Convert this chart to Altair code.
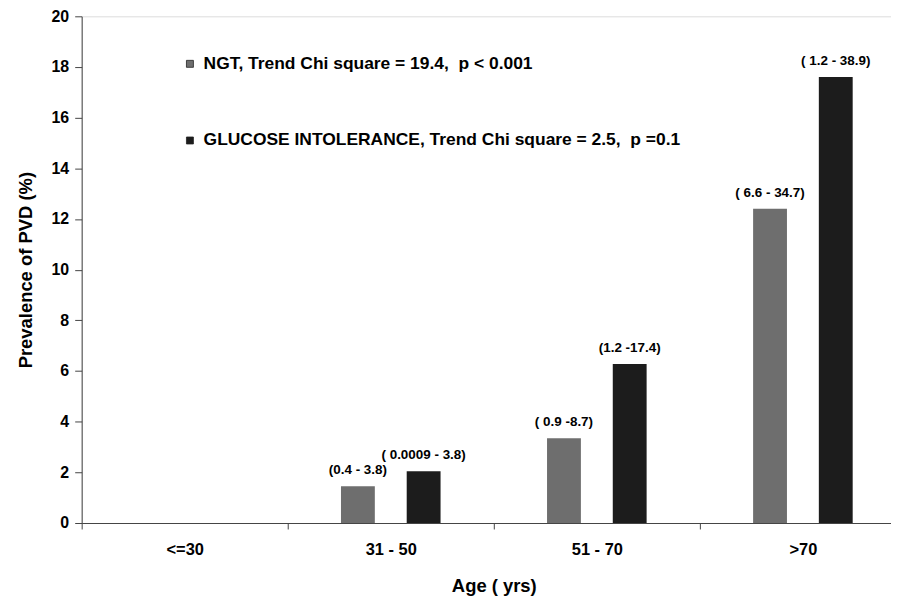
import altair as alt
import pandas as pd

ages = ["<=30", "31 - 50", "51 - 70", ">70"]
groups = ["NGT", "GLUCOSE INTOLERANCE"]
ngt_values = [0, 1.45, 3.35, 12.4]
gi_values = [0, 2.04, 6.28, 17.6]
ngt_ci = ["", "(0.4 - 3.8)", "( 0.9 -8.7)", "( 6.6 - 34.7)"]
gi_ci = ["", "( 0.0009 - 3.8)", "(1.2 -17.4)", "( 1.2 - 38.9)"]
legend_labels = {
    "NGT": "NGT, Trend Chi square = 19.4,\u00a0\u00a0p < 0.001",
    "GLUCOSE INTOLERANCE": "GLUCOSE INTOLERANCE, Trend Chi square = 2.5,\u00a0\u00a0p =0.1",
}

rows = []
for i, a in enumerate(ages):
    rows.append({"age": a, "group": groups[0], "value": ngt_values[i], "ci": ngt_ci[i]})
    rows.append({"age": a, "group": groups[1], "value": gi_values[i], "ci": gi_ci[i]})
df = pd.DataFrame(rows)

FONT = "Liberation Sans"

label_expr = "datum.label == 'NGT' ? '%s' : '%s'" % (
    legend_labels["NGT"], legend_labels["GLUCOSE INTOLERANCE"])

x_enc = alt.X(
    "age:N", sort=ages, title="Age ( yrs)",
    scale=alt.Scale(paddingInner=0, paddingOuter=0),
    axis=alt.Axis(
        labelAngle=0, labelFont=FONT, labelFontSize=16.5, labelFontWeight="bold",
        labelColor="#000", labelPadding=13, tickBand="extent", tickSize=6,
        tickColor="#444", domainColor="#444", titleFont=FONT, titleFontSize=18.5,
        titleFontWeight="bold", titleColor="#000", titlePadding=18, grid=False,
    ),
)
xoff = alt.XOffset(
    "group:N", sort=groups,
    scale=alt.Scale(paddingInner=0.485, paddingOuter=0.81),
)
y_enc = alt.Y(
    "value:Q", title="Prevalence of PVD (%)",
    scale=alt.Scale(domain=[0, 20], nice=False),
    axis=alt.Axis(
        values=list(range(0, 21, 2)), labelFont=FONT, labelFontSize=16,
        labelFontWeight="bold", labelColor="#000", labelPadding=6, tickSize=7,
        tickColor="#444", domainColor="#444", grid=False, titleFont=FONT,
        titleFontSize=18.5, titleFontWeight="bold", titleColor="#000",
        titlePadding=16,
    ),
)

bars = alt.Chart(df).mark_bar().encode(
    x=x_enc,
    xOffset=xoff,
    y=y_enc,
    color=alt.Color(
        "group:N", sort=groups,
        scale=alt.Scale(domain=groups, range=["#6e6e6e", "#1c1c1c"]),
        legend=alt.Legend(
            title=None, orient="none", legendX=100, legendY=39, direction="vertical",
            symbolType="square", symbolSize=49, symbolStrokeColor="#222",
            symbolStrokeWidth=0.8, labelFont=FONT, labelFontSize=17.5,
            labelFontWeight="bold", labelColor="#000", rowPadding=58,
            labelOffset=5, labelExpr=label_expr, labelLimit=700, padding=0,
        ),
    ),
)

labels = alt.Chart(df).mark_text(
    font=FONT, fontSize=13.5, fontWeight="bold", color="#000",
    baseline="bottom", dy=-9,
).encode(
    x=alt.X("age:N", sort=ages),
    xOffset=alt.XOffset("group:N", sort=groups),
    y=alt.Y("value:Q"),
    text="ci:N",
)

chart = alt.layer(bars, labels).properties(
    width=828, height=509,
    autosize=alt.AutoSizeParams(type="none"),
    padding={"left": 74, "top": 7, "right": -15, "bottom": 76},
).configure_view(stroke=None).configure(background="white")

chart.save("out.html", embed_options={"renderer": "svg", "actions": False})
